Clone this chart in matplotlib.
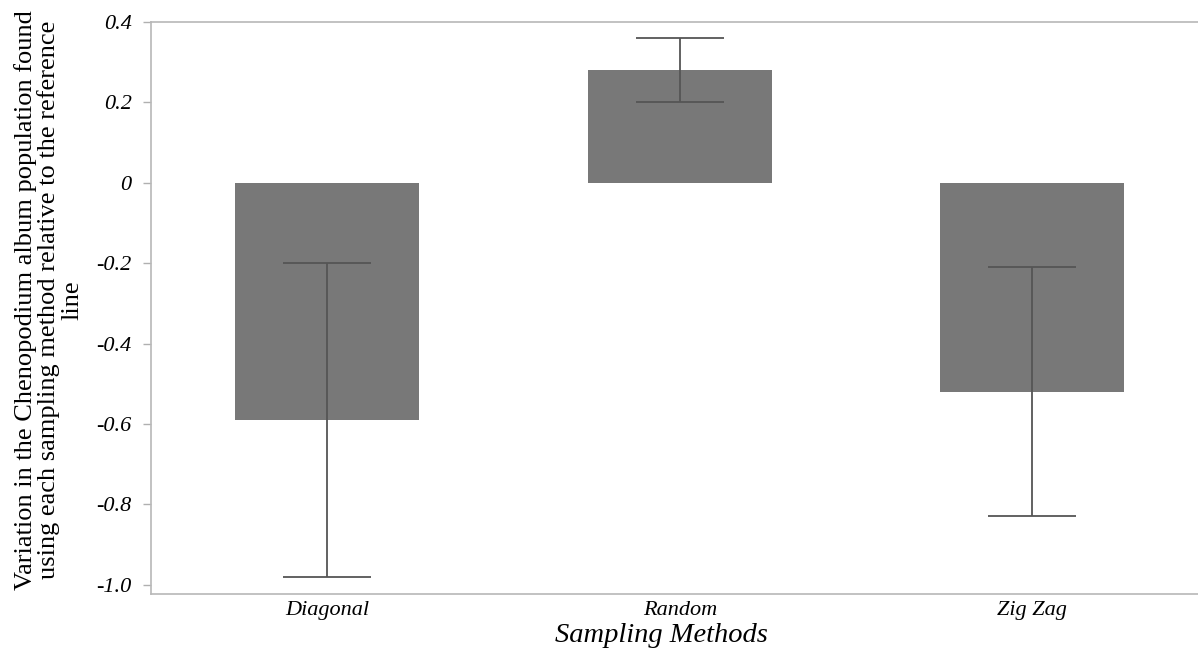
import matplotlib
matplotlib.use("Agg")
import matplotlib.pyplot as plt

categories = ["Diagonal", "Random", "Zig Zag"]
means = [-0.59, 0.28, -0.52]
errors = [0.39, 0.08, 0.31]
yticks = [-1.0, -0.8, -0.6, -0.4, -0.2, 0, 0.2, 0.4]
ytick_labels = ["-1.0", "-0.8", "-0.6", "-0.4", "-0.2", "0", "0.2", "0.4"]

plt.rcParams['font.family'] = ['Liberation Serif', 'DejaVu Serif']

fig = plt.figure(figsize=(11.98, 6.48), dpi=100)
ax = fig.add_axes([151/1198, 1-594/648, 1-151/1198, (594-22)/648])

x = list(range(len(categories)))
ax.bar(x, means, width=0.523, color="#787878", edgecolor="none", zorder=2)
ax.errorbar(x, means, yerr=errors, fmt="none", ecolor="#555555",
            elinewidth=1.3, capsize=31.7, capthick=1.3, zorder=3)

ax.set_xlim(-0.5, 2.47)
ax.set_ylim(-1.023, 0.4)
ax.set_yticks(yticks)
ax.set_yticklabels(ytick_labels, fontstyle="italic", fontsize=16)
ax.set_xticks(x)
ax.set_xticklabels(categories, fontstyle="italic", fontsize=16)

ax.tick_params(axis="y", length=6, width=1, color="#b0b0b0", pad=8)
ax.tick_params(axis="x", length=0, pad=5)

for s in ["left", "bottom", "top"]:
    ax.spines[s].set_color("#b8b8b8")
    ax.spines[s].set_linewidth(1.2)
ax.spines["right"].set_visible(False)

ax.set_xlabel("Sampling Methods", fontstyle="italic", fontsize=20.5, labelpad=2)
ax.set_ylabel("Variation in the Chenopodium album population found\n"
              "using each sampling method relative to the reference\nline",
              fontsize=19, linespacing=1.03, labelpad=14)
ax.xaxis.set_label_coords((661-151)/(1198-151), -0.05)
ax.yaxis.set_label_coords(-0.065, (1-(300/648) - (1-594/648)) / ((594-22)/648))

fig.savefig("out.png", dpi=100, facecolor="white")
